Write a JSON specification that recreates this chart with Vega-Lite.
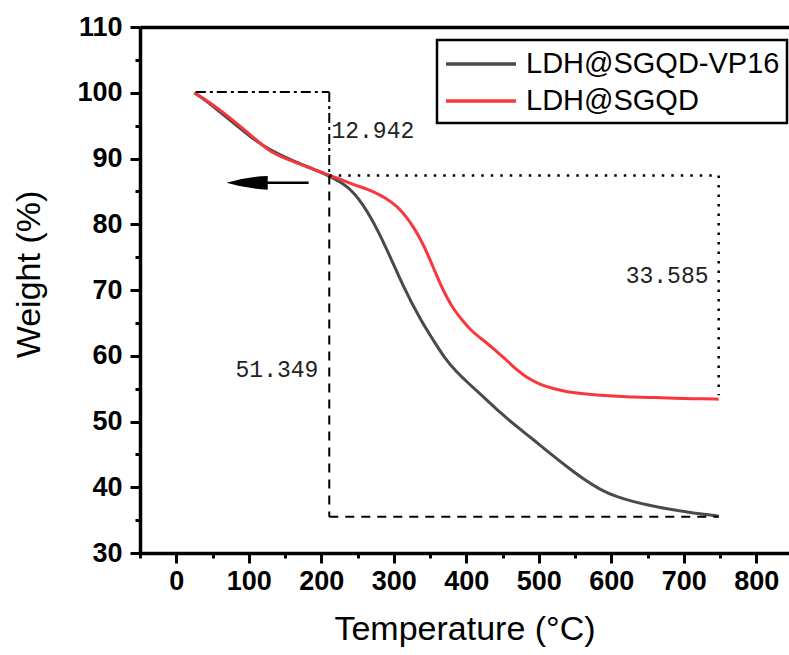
{
  "$schema": "https://vega.github.io/schema/vega-lite/v6.json",
  "width": 649,
  "height": 526,
  "autosize": {"type": "none"},
  "padding": {"left": 140, "top": 27, "right": 0, "bottom": 102},
  "background": "white",
  "config": {"view": {"stroke": null}, "font": "Liberation Sans"},
  "datasets": {
    "curves": [
      {"T": 25, "W": 100, "s": "LDH@SGQD-VP16"},
      {"T": 40, "W": 98.9, "s": "LDH@SGQD-VP16"},
      {"T": 60, "W": 97.1, "s": "LDH@SGQD-VP16"},
      {"T": 80, "W": 95.3, "s": "LDH@SGQD-VP16"},
      {"T": 100, "W": 93.5, "s": "LDH@SGQD-VP16"},
      {"T": 120, "W": 91.9, "s": "LDH@SGQD-VP16"},
      {"T": 140, "W": 90.7, "s": "LDH@SGQD-VP16"},
      {"T": 160, "W": 89.7, "s": "LDH@SGQD-VP16"},
      {"T": 180, "W": 88.8, "s": "LDH@SGQD-VP16"},
      {"T": 200, "W": 87.9, "s": "LDH@SGQD-VP16"},
      {"T": 213, "W": 87.2, "s": "LDH@SGQD-VP16"},
      {"T": 230, "W": 86.2, "s": "LDH@SGQD-VP16"},
      {"T": 245, "W": 84.9, "s": "LDH@SGQD-VP16"},
      {"T": 268, "W": 81.3, "s": "LDH@SGQD-VP16"},
      {"T": 291, "W": 76.1, "s": "LDH@SGQD-VP16"},
      {"T": 313, "W": 70.5, "s": "LDH@SGQD-VP16"},
      {"T": 337, "W": 65.4, "s": "LDH@SGQD-VP16"},
      {"T": 355, "W": 62.3, "s": "LDH@SGQD-VP16"},
      {"T": 369, "W": 59.8, "s": "LDH@SGQD-VP16"},
      {"T": 385, "W": 57.7, "s": "LDH@SGQD-VP16"},
      {"T": 402, "W": 55.9, "s": "LDH@SGQD-VP16"},
      {"T": 425, "W": 53.6, "s": "LDH@SGQD-VP16"},
      {"T": 447, "W": 51.3, "s": "LDH@SGQD-VP16"},
      {"T": 470, "W": 49.2, "s": "LDH@SGQD-VP16"},
      {"T": 493, "W": 47.2, "s": "LDH@SGQD-VP16"},
      {"T": 516, "W": 45.1, "s": "LDH@SGQD-VP16"},
      {"T": 539, "W": 43.1, "s": "LDH@SGQD-VP16"},
      {"T": 562, "W": 41.2, "s": "LDH@SGQD-VP16"},
      {"T": 585, "W": 39.6, "s": "LDH@SGQD-VP16"},
      {"T": 608, "W": 38.5, "s": "LDH@SGQD-VP16"},
      {"T": 631, "W": 37.8, "s": "LDH@SGQD-VP16"},
      {"T": 654, "W": 37.2, "s": "LDH@SGQD-VP16"},
      {"T": 677, "W": 36.7, "s": "LDH@SGQD-VP16"},
      {"T": 700, "W": 36.3, "s": "LDH@SGQD-VP16"},
      {"T": 725, "W": 35.9, "s": "LDH@SGQD-VP16"},
      {"T": 748, "W": 35.6, "s": "LDH@SGQD-VP16"},
      {"T": 25, "W": 100, "s": "LDH@SGQD"},
      {"T": 45, "W": 98.6, "s": "LDH@SGQD"},
      {"T": 66, "W": 96.9, "s": "LDH@SGQD"},
      {"T": 85, "W": 95.2, "s": "LDH@SGQD"},
      {"T": 99, "W": 93.9, "s": "LDH@SGQD"},
      {"T": 115, "W": 92.4, "s": "LDH@SGQD"},
      {"T": 130, "W": 91.0, "s": "LDH@SGQD"},
      {"T": 150, "W": 90.0, "s": "LDH@SGQD"},
      {"T": 167, "W": 89.3, "s": "LDH@SGQD"},
      {"T": 190, "W": 88.3, "s": "LDH@SGQD"},
      {"T": 210, "W": 87.5, "s": "LDH@SGQD"},
      {"T": 230, "W": 86.7, "s": "LDH@SGQD"},
      {"T": 245, "W": 86.0, "s": "LDH@SGQD"},
      {"T": 265, "W": 85.3, "s": "LDH@SGQD"},
      {"T": 282, "W": 84.4, "s": "LDH@SGQD"},
      {"T": 297, "W": 83.4, "s": "LDH@SGQD"},
      {"T": 309, "W": 82.2, "s": "LDH@SGQD"},
      {"T": 318, "W": 81.0, "s": "LDH@SGQD"},
      {"T": 327, "W": 79.6, "s": "LDH@SGQD"},
      {"T": 337, "W": 77.7, "s": "LDH@SGQD"},
      {"T": 347, "W": 75.4, "s": "LDH@SGQD"},
      {"T": 356, "W": 73.0, "s": "LDH@SGQD"},
      {"T": 365, "W": 70.7, "s": "LDH@SGQD"},
      {"T": 374, "W": 68.7, "s": "LDH@SGQD"},
      {"T": 383, "W": 67.0, "s": "LDH@SGQD"},
      {"T": 395, "W": 65.3, "s": "LDH@SGQD"},
      {"T": 406, "W": 63.9, "s": "LDH@SGQD"},
      {"T": 418, "W": 62.8, "s": "LDH@SGQD"},
      {"T": 429, "W": 61.9, "s": "LDH@SGQD"},
      {"T": 440, "W": 60.8, "s": "LDH@SGQD"},
      {"T": 452, "W": 59.7, "s": "LDH@SGQD"},
      {"T": 470, "W": 57.8, "s": "LDH@SGQD"},
      {"T": 486, "W": 56.5, "s": "LDH@SGQD"},
      {"T": 502, "W": 55.6, "s": "LDH@SGQD"},
      {"T": 520, "W": 55.0, "s": "LDH@SGQD"},
      {"T": 539, "W": 54.5, "s": "LDH@SGQD"},
      {"T": 562, "W": 54.2, "s": "LDH@SGQD"},
      {"T": 585, "W": 54.0, "s": "LDH@SGQD"},
      {"T": 608, "W": 53.85, "s": "LDH@SGQD"},
      {"T": 631, "W": 53.7, "s": "LDH@SGQD"},
      {"T": 654, "W": 53.65, "s": "LDH@SGQD"},
      {"T": 677, "W": 53.6, "s": "LDH@SGQD"},
      {"T": 700, "W": 53.5, "s": "LDH@SGQD"},
      {"T": 725, "W": 53.45, "s": "LDH@SGQD"},
      {"T": 748, "W": 53.4, "s": "LDH@SGQD"}
    ],
    "dashdot": [
      {"x": 27, "y": 100.1, "x2": 211, "y2": 100.1},
      {"x": 211, "y": 100.1, "x2": 211, "y2": 87.4}
    ],
    "dashed": [
      {"x": 211, "y": 87.4, "x2": 211, "y2": 35.5},
      {"x": 211, "y": 35.5, "x2": 748, "y2": 35.5}
    ],
    "dotted": [
      {"x": 211, "y": 87.4, "x2": 748, "y2": 87.4},
      {"x": 748, "y": 87.4, "x2": 748, "y2": 54}
    ],
    "arrowline": [{"x": 120, "x2": 182.5, "y": 86.3}],
    "arrowhead": [{"x": 97.7, "y": 86.3}],
    "labelsLeft": [{"x": 214, "y": 94.2, "t": "12.942"}],
    "labelsRight": [
      {"x": 196, "y": 57.8, "t": "51.349"},
      {"x": 734, "y": 72.1, "t": "33.585"}
    ]
  },
  "layer": [
    {
      "data": {"name": "curves"},
      "mark": {"type": "line", "interpolate": "basis", "strokeWidth": 3},
      "encoding": {
        "x": {
          "field": "T", "type": "quantitative",
          "scale": {"domain": [-50, 845], "nice": false, "zero": false},
          "axis": {
            "orient": "bottom",
            "values": [0, 100, 200, 300, 400, 500, 600, 700, 800],
            "grid": false,
            "domainColor": "black", "domainWidth": 3.5,
            "tickColor": "black", "tickWidth": 3, "tickSize": 10,
            "labelFont": "Liberation Sans", "labelFontSize": 27, "labelFontWeight": "bold", "labelColor": "black",
            "labelPadding": 5,
            "title": "Temperature (°C)",
            "titleFont": "Liberation Sans", "titleFontSize": 34, "titleFontWeight": "normal", "titleColor": "black",
            "titlePadding": 18
          }
        },
        "y": {
          "field": "W", "type": "quantitative",
          "scale": {"domain": [30, 110], "nice": false, "zero": false},
          "axis": {
            "orient": "left",
            "values": [30, 40, 50, 60, 70, 80, 90, 100, 110],
            "grid": false,
            "domainColor": "black", "domainWidth": 3.5,
            "tickColor": "black", "tickWidth": 3, "tickSize": 10,
            "labelFont": "Liberation Sans", "labelFontSize": 27, "labelFontWeight": "bold", "labelColor": "black",
            "labelPadding": 8,
            "title": "Weight (%)",
            "titleFont": "Liberation Sans", "titleFontSize": 34, "titleFontWeight": "normal", "titleColor": "black",
            "titlePadding": 30,
            "titleY": 247
          }
        },
        "color": {
          "field": "s", "type": "nominal",
          "scale": {"domain": ["LDH@SGQD-VP16", "LDH@SGQD"], "range": ["#4a4a4a", "#f8363b"]},
          "legend": {
            "title": null,
            "orient": "none",
            "legendX": 297,
            "legendY": 13,
            "labelFont": "Liberation Sans",
            "labelFontSize": 29,
            "labelColor": "black",
            "labelLimit": 400,
            "labelOffset": 48,
            "symbolType": "M -1 0 L 3.67 0",
            "symbolSize": 900,
            "symbolStrokeWidth": 3.5,
            "rowPadding": 5,
            "padding": 7,
            "strokeColor": "black",
            "fillColor": "white",
            "encode": {"legend": {"update": {"strokeWidth": {"value": 2.5}}}}
          }
        }
      }
    },
    {
      "data": {"name": "dashdot"},
      "mark": {"type": "rule", "color": "black", "strokeWidth": 2, "strokeDash": [10, 4, 3, 4]},
      "encoding": {
        "x": {
          "field": "x", "type": "quantitative",
          "axis": {
            "orient": "bottom",
            "values": [-50, 50, 150, 250, 350, 450, 550, 650, 750],
            "labels": false, "domain": false, "grid": false, "title": null,
            "tickColor": "black", "tickWidth": 3, "tickSize": 5
          }
        },
        "y": {
          "field": "y", "type": "quantitative",
          "axis": {
            "orient": "left",
            "values": [35, 45, 55, 65, 75, 85, 95, 105],
            "labels": false, "domain": false, "grid": false, "title": null,
            "tickColor": "black", "tickWidth": 3, "tickSize": 5
          }
        },
        "x2": {"field": "x2"},
        "y2": {"field": "y2"}
      }
    },
    {
      "data": {"name": "dashed"},
      "mark": {"type": "rule", "color": "black", "strokeWidth": 2, "strokeDash": [9, 7]},
      "encoding": {
        "x": {
          "field": "x", "type": "quantitative",
          "axis": {
            "orient": "top",
            "labels": false, "ticks": false, "grid": false, "title": null,
            "domainColor": "black", "domainWidth": 3.5
          }
        },
        "y": {"field": "y", "type": "quantitative", "axis": null},
        "x2": {"field": "x2"},
        "y2": {"field": "y2"}
      }
    },
    {
      "data": {"name": "dotted"},
      "mark": {"type": "rule", "color": "black", "strokeWidth": 2.5, "strokeDash": [2.5, 7]},
      "encoding": {
        "x": {"field": "x", "type": "quantitative", "axis": null},
        "y": {"field": "y", "type": "quantitative", "axis": null},
        "x2": {"field": "x2"},
        "y2": {"field": "y2"}
      }
    },
    {
      "data": {"name": "arrowline"},
      "mark": {"type": "rule", "color": "black", "strokeWidth": 2.5},
      "encoding": {
        "x": {"field": "x", "type": "quantitative", "axis": null},
        "x2": {"field": "x2"},
        "y": {"field": "y", "type": "quantitative", "axis": null}
      }
    },
    {
      "data": {"name": "arrowhead"},
      "mark": {"type": "point", "shape": "M -1 0 Q 0 -0.3 1 -0.33 L 1 0.33 Q 0 0.3 -1 0 Z", "size": 1700, "filled": true, "color": "black", "opacity": 1},
      "encoding": {
        "x": {"field": "x", "type": "quantitative", "axis": null},
        "y": {"field": "y", "type": "quantitative", "axis": null}
      }
    },
    {
      "data": {"name": "labelsLeft"},
      "mark": {"type": "text", "align": "left", "baseline": "middle", "font": "Liberation Mono", "fontSize": 23, "color": "#222222"},
      "encoding": {
        "x": {"field": "x", "type": "quantitative", "axis": null},
        "y": {"field": "y", "type": "quantitative", "axis": null},
        "text": {"field": "t"}
      }
    },
    {
      "data": {"name": "labelsRight"},
      "mark": {"type": "text", "align": "right", "baseline": "middle", "font": "Liberation Mono", "fontSize": 23, "color": "#222222"},
      "encoding": {
        "x": {"field": "x", "type": "quantitative", "axis": null},
        "y": {"field": "y", "type": "quantitative", "axis": null},
        "text": {"field": "t"}
      }
    }
  ],
  "resolve": {"axis": {"x": "independent", "y": "independent"}}
}
